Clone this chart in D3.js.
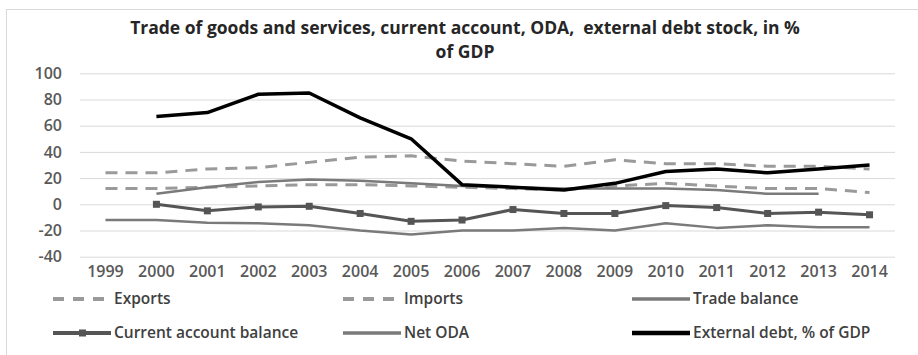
<!DOCTYPE html>
<html><head><meta charset="utf-8">
<script src="https://cdn.jsdelivr.net/npm/d3@7"></script>
<style>body{margin:0;background:#fff;} text{font-family:"Open Sans",sans-serif;}</style>
</head><body><svg id="c" width="918" height="355"></svg>
<script>
const years = ["1999","2000","2001","2002","2003","2004","2005","2006","2007","2008","2009","2010","2011","2012","2013","2014"];
const exportsS = [12,12,13,14,15,15,14,13,12,11,14,16,14,12,12,9];
const importsS = [24,24,27,28,32,36,37,33,31,29,34,31,31,29,29,27];
const tradeBalance = [-12,-12,-14,-14.5,-16,-20,-23,-20,-20,-18,-20,-14.5,-18,-16,-17.5,-17.5];
const currentAccount = [null,0,-5,-2,-1.5,-7,-13,-12,-4,-7,-7,-1,-2.5,-7,-6,-8];
const netODA = [null,8,13,17,19,18,16,14,13,12,12,12,11,8,8,null];
const externalDebt = [null,67,70,84,85,66,50,15,13,11,16,25,27,24,27,30];
const yTicks = [-40,-20,0,20,40,60,80,100];
const titleLines = ["Trade of goods and services, current account, ODA,  external debt stock, in %","of GDP"];

const svg = d3.select("#c");
svg.append("rect").attr("x",6.5).attr("y",9.5).attr("width",930).attr("height",360)
  .attr("fill","none").attr("stroke","#d9d9d9");

const x = d3.scaleBand().domain(years).range([80,895]);
const cx = d => x(d) + x.bandwidth()/2;
const y = d3.scaleLinear().domain([-40,100]).range([256.7,73.3]);

// grid
const grid = svg.append("g").attr("transform","translate(80,0)")
  .call(d3.axisLeft(y).tickValues(yTicks).tickSize(-815).tickFormat(""));
grid.select(".domain").remove();
grid.selectAll("line").attr("stroke","#d9d9d9").attr("stroke-width",1);

const ya = svg.append("g").attr("transform","translate(80,0)")
  .call(d3.axisLeft(y).tickValues(yTicks).tickSize(0).tickPadding(18).tickFormat(d=>String(d)));
ya.select(".domain").remove();
ya.selectAll("text").attr("font-size",16).attr("font-weight",600).attr("fill","#595959")
  .attr("font-family","Open Sans");

const xa = svg.append("g").attr("transform","translate(0,263)")
  .call(d3.axisBottom(x).tickSize(0).tickPadding(3));
xa.select(".domain").remove();
xa.selectAll("text").attr("font-size",16).attr("font-weight",600).attr("fill","#595959")
  .attr("font-family","Open Sans");

const series = [
  {name:"Exports", data:exportsS, color:"#9a9a9a", w:3, dash:"12,8"},
  {name:"Imports", data:importsS, color:"#9a9a9a", w:3, dash:"12,8"},
  {name:"Trade balance", data:tradeBalance, color:"#7a7a7a", w:2.5},
  {name:"Current account balance", data:currentAccount, color:"#555555", w:3, marker:true},
  {name:"Net ODA", data:netODA, color:"#7a7a7a", w:2.5},
  {name:"External debt, % of GDP", data:externalDebt, color:"#000000", w:3.5}
];

const line = d3.line().defined(d=>d.v!=null).x(d=>cx(d.yr)).y(d=>y(d.v));
series.forEach(s=>{
  const pts = years.map((yr,i)=>({yr, v:s.data[i]}));
  svg.append("path").datum(pts).attr("d",line).attr("fill","none")
    .attr("stroke",s.color).attr("stroke-width",s.w)
    .attr("stroke-dasharray",s.dash||null).attr("stroke-linejoin","round");
  if(s.marker){
    svg.selectAll(null).data(pts.filter(p=>p.v!=null)).enter().append("rect")
      .attr("x",p=>cx(p.yr)-3.5).attr("y",p=>y(p.v)-3.5).attr("width",7).attr("height",7)
      .attr("fill","#555555");
  }
});

// legend
const legPos = [[53,299],[343,299],[632,299],[53,333],[343,333],[632,333]];
series.forEach((s,i)=>{
  const [lx,ly] = legPos[i];
  const g = svg.append("g");
  g.append("line").attr("x1",lx).attr("x2",lx+58).attr("y1",ly).attr("y2",ly)
    .attr("stroke",s.color).attr("stroke-width",s.w+1).attr("stroke-dasharray",s.dash?"11,9":null);
  if(s.marker) g.append("rect").attr("x",lx+26).attr("y",ly-3.5).attr("width",7).attr("height",7).attr("fill","#555555");
  g.append("text").attr("x",lx+61).attr("y",ly).attr("dy","0.35em").attr("font-size",15.5)
    .attr("font-weight",600).attr("fill","#404040").text(s.name);
});

// title
svg.selectAll(".title").data(titleLines).enter().append("text")
  .attr("x",465).attr("y",(d,i)=>34+i*24).attr("text-anchor","middle")
  .style("white-space","pre")
  .attr("font-size",17.5).attr("font-weight",700).attr("fill","#262626").text(d=>d);
</script></body></html>
